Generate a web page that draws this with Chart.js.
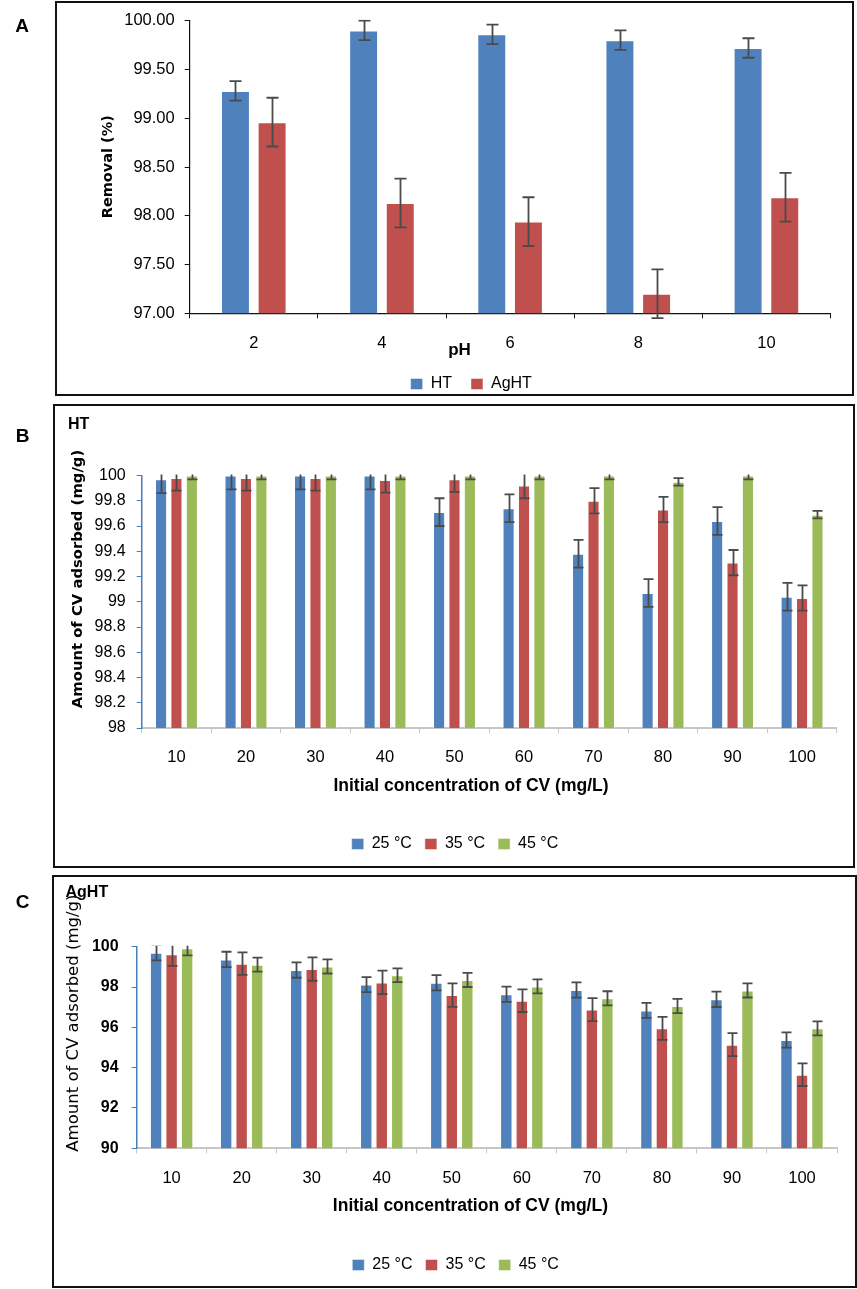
<!DOCTYPE html>
<html>
<head>
<meta charset="utf-8">
<script src="https://cdn.jsdelivr.net/npm/chart.js@4.4.1/dist/chart.umd.min.js"></script>
<style>
html,body{margin:0;padding:0;background:#fff;}
body{width:857px;height:1289px;position:relative;overflow:hidden;}
.box{position:absolute;border:2px solid #111;box-sizing:border-box;}
canvas{position:absolute;left:0;}
</style>
</head>
<body>
<div class="box" style="left:55px;top:1px;width:799px;height:395px"></div>
<div class="box" style="left:53px;top:404px;width:802px;height:464px"></div>
<div class="box" style="left:52px;top:875px;width:805px;height:413px"></div>
<canvas id="cA" width="857" height="402" style="top:0px"></canvas>
<canvas id="cB" width="857" height="465" style="top:403px"></canvas>
<canvas id="cC" width="857" height="419" style="top:870px"></canvas>
<script>
// ---------- Panel A data ----------
const phCategories = ['2', '4', '6', '8', '10'];
const removalHT = [99.28, 99.90, 99.86, 99.80, 99.72];
const removalHTErr = [0.10, 0.10, 0.10, 0.10, 0.10];
const removalAgHT = [98.96, 98.13, 97.94, 97.20, 98.19];
const removalAgHTErr = [0.25, 0.25, 0.25, 0.25, 0.25];
const seriesA = ['HT', 'AgHT'];

// ---------- Panel B / C data ----------
const concCategories = ['10', '20', '30', '40', '50', '60', '70', '80', '90', '100'];
const tempLabels = ['25 °C', '35 °C', '45 °C'];

const htQ25 = [99.97, 100.00, 100.00, 100.00, 99.71, 99.74, 99.38, 99.07, 99.64, 99.04];
const htQ25Err = [0.11, 0.11, 0.11, 0.11, 0.11, 0.11, 0.11, 0.11, 0.11, 0.11];
const htQ35 = [99.98, 99.98, 99.98, 99.965, 99.97, 99.92, 99.80, 99.73, 99.31, 99.03];
const htQ35Err = [0.10, 0.10, 0.10, 0.10, 0.10, 0.10, 0.10, 0.10, 0.10, 0.10];
const htQ45 = [100.00, 100.00, 100.00, 100.00, 100.00, 100.00, 100.00, 99.95, 100.00, 99.69];
const htQ45Err = [0.03, 0.03, 0.03, 0.03, 0.03, 0.03, 0.03, 0.03, 0.03, 0.03];

const aghtQ25 = [99.70, 99.37, 98.84, 98.12, 98.21, 97.64, 97.85, 96.84, 97.39, 95.37];
const aghtQ25Err = [0.38, 0.38, 0.38, 0.37, 0.38, 0.38, 0.38, 0.37, 0.38, 0.38];
const aghtQ35 = [99.62, 99.16, 98.89, 98.23, 97.60, 97.32, 96.88, 95.95, 95.14, 93.65];
const aghtQ35Err = [0.57, 0.56, 0.58, 0.58, 0.58, 0.56, 0.57, 0.57, 0.57, 0.56];
const aghtQ45 = [99.92, 99.11, 99.02, 98.58, 98.35, 98.03, 97.44, 97.06, 97.83, 95.95];
const aghtQ45Err = [0.35, 0.35, 0.35, 0.34, 0.35, 0.35, 0.35, 0.35, 0.35, 0.35];

// ---------- Text ----------
const panelLetters = ['A', 'B', 'C'];
const panelSubtitles = ['HT', 'AgHT'];
const yTitleA = 'Removal (%)';
const xTitleA = 'pH';
const yTitleBC = 'Amount of CV adsorbed (mg/g)';
const xTitleBC = 'Initial concentration of CV (mg/L)';

// ---------- Styles ----------
const BLUE = '#4F81BD', RED = '#C0504D', GREEN = '#9BBB59';
const SANS = "'Liberation Sans', Arial, sans-serif";
const WIDE = "'DejaVu Sans', Verdana, sans-serif";

const errorBars = {
  id: 'errorBars',
  afterDatasetsDraw(chart, args, opts) {
    const {ctx, chartArea} = chart;
    ctx.save();
    ctx.beginPath();
    ctx.rect(0, chartArea.top - 1, chart.width, chart.height);
    ctx.clip();
    ctx.strokeStyle = opts.color || '#4d4d4d';
    ctx.lineWidth = opts.width || 1.6;
    chart.data.datasets.forEach((ds, di) => {
      const meta = chart.getDatasetMeta(di);
      const ys = chart.scales[meta.yAxisID];
      meta.data.forEach((bar, i) => {
        const v = ds.data[i], e = ds.errors[i];
        const yT = ys.getPixelForValue(v + e), yB = ys.getPixelForValue(v - e);
        const x = Math.round(bar.x) + 0.5, hw = opts.cap || 5;
        ctx.beginPath();
        ctx.moveTo(x, yT); ctx.lineTo(x, yB);
        ctx.moveTo(x - hw, yT); ctx.lineTo(x + hw, yT);
        ctx.moveTo(x - hw, yB); ctx.lineTo(x + hw, yB);
        ctx.stroke();
      });
    });
    ctx.restore();
  }
};

const freeText = {
  id: 'freeText',
  afterDraw(chart, args, opts) {
    const ctx = chart.ctx;
    (opts.items || []).forEach(it => {
      ctx.save();
      ctx.font = it.font;
      ctx.fillStyle = it.color || '#000';
      ctx.textAlign = it.align || 'center';
      ctx.textBaseline = 'middle';
      ctx.translate(it.x, it.y);
      if (it.rotate) ctx.rotate(it.rotate);
      ctx.fillText(it.text, 0, 0);
      ctx.restore();
    });
  }
};

function makeChart(id, cfg) {
  return new Chart(document.getElementById(id), {
    type: 'bar',
    data: { labels: cfg.labels, datasets: cfg.datasets },
    plugins: [errorBars, freeText],
    options: {
      responsive: false,
      animation: false,
      devicePixelRatio: 1,
      layout: { padding: cfg.padding },
      datasets: { bar: { categoryPercentage: cfg.catPct, barPercentage: cfg.barPct, borderWidth: 1, borderColor: 'rgba(255,255,255,0.45)' } },
      scales: {
        x: {
          grid: { display: true, drawOnChartArea: false, drawTicks: true, tickLength: 5, color: cfg.xAxisColor, lineWidth: 1 },
          border: { display: true, color: cfg.xAxisColor, width: cfg.xAxisWidth },
          ticks: { color: '#000', padding: 15, font: { family: SANS, size: cfg.xTickSize } },
          afterFit(s) { s.height = cfg.xHeight; }
        },
        y: {
          min: cfg.yMin, max: cfg.yMax,
          grid: { display: true, drawOnChartArea: false, drawTicks: true, tickLength: 5, color: cfg.yAxisColor, lineWidth: 1 },
          border: { display: true, color: cfg.yAxisColor, width: cfg.yAxisWidth },
          ticks: { stepSize: cfg.yStep, color: '#000', padding: cfg.yTickPad, font: { family: SANS, size: cfg.yTickSize, weight: cfg.yTickWeight }, callback: cfg.yFmt },
          afterFit(s) { s.width = cfg.yWidth; }
        }
      },
      plugins: {
        legend: {
          position: 'bottom',
          labels: { boxWidth: 12, boxHeight: 11, padding: cfg.legendPad, color: '#000', font: { family: SANS, size: 16 } }
        },
        tooltip: { enabled: false },
        errorBars: { color: '#4a4a4a', width: 1.8, cap: cfg.cap },
        freeText: { items: cfg.texts }
      }
    }
  });
}

// ---------- Panel A ----------
makeChart('cA', {
  labels: phCategories,
  datasets: [
    { label: seriesA[0], data: removalHT, errors: removalHTErr, backgroundColor: BLUE },
    { label: seriesA[1], data: removalAgHT, errors: removalAgHTErr, backgroundColor: RED }
  ],
  padding: { left: 112, right: 26.5, top: 20.7, bottom: 0 },
  catPct: 0.572, barPct: 0.79,
  xAxisColor: '#111', xAxisWidth: 1.2, yAxisColor: '#111', yAxisWidth: 1.2,
  xTickSize: 16.5, yTickSize: 16.5, yTickWeight: 'normal', yTickPad: 10,
  xHeight: 43.7, yWidth: 77.7,
  yMin: 97, yMax: 100, yStep: 0.5, yFmt: v => v.toFixed(2),
  legendPad: 19, cap: 6,
  texts: [
    { text: panelLetters[0], x: 22, y: 27, font: `bold 19px ${SANS}` },
    { text: yTitleA, x: 108.3, y: 166.7, rotate: -Math.PI / 2, font: `bold 14.5px ${WIDE}` },
    { text: xTitleA, x: 459.5, y: 350, font: `bold 17px ${SANS}` }
  ]
});

// ---------- Panel B ----------
makeChart('cB', {
  labels: concCategories,
  datasets: [
    { label: tempLabels[0], data: htQ25, errors: htQ25Err, backgroundColor: BLUE },
    { label: tempLabels[1], data: htQ35, errors: htQ35Err, backgroundColor: RED },
    { label: tempLabels[2], data: htQ45, errors: htQ45Err, backgroundColor: GREEN }
  ],
  padding: { left: 73.2, right: 20.2, top: 72.5, bottom: 6 },
  catPct: 0.665, barPct: 0.785,
  xAxisColor: '#c6c6c6', xAxisWidth: 2, yAxisColor: '#4a7ebb', yAxisWidth: 1.5,
  xTickSize: 16.5, yTickSize: 16, yTickWeight: 'normal', yTickPad: 11,
  xHeight: 95, yWidth: 68.5,
  yMin: 98, yMax: 100, yStep: 0.2, yFmt: v => String(Number(v.toFixed(1))),
  legendPad: 13, cap: 5,
  texts: [
    { text: panelLetters[1], x: 22.5, y: 34, font: `bold 19px ${SANS}` },
    { text: panelSubtitles[0], x: 68, y: 22, align: 'left', font: `bold 16px ${SANS}` },
    { text: yTitleBC, x: 78, y: 176, rotate: -Math.PI / 2, font: `bold 14.8px ${WIDE}` },
    { text: xTitleBC, x: 471, y: 383, font: `bold 17.5px ${SANS}` }
  ]
});

// ---------- Panel C ----------
makeChart('cC', {
  labels: concCategories,
  datasets: [
    { label: tempLabels[0], data: aghtQ25, errors: aghtQ25Err, backgroundColor: BLUE },
    { label: tempLabels[1], data: aghtQ35, errors: aghtQ35Err, backgroundColor: RED },
    { label: tempLabels[2], data: aghtQ45, errors: aghtQ45Err, backgroundColor: GREEN }
  ],
  padding: { left: 74.2, right: 20, top: 76.7, bottom: 6 },
  catPct: 0.664, barPct: 0.8,
  xAxisColor: '#c6c6c6', xAxisWidth: 2, yAxisColor: '#4a7ebb', yAxisWidth: 1.5,
  xTickSize: 16.5, yTickSize: 16, yTickWeight: 'bold', yTickPad: 13,
  xHeight: 95.7, yWidth: 62.4,
  yMin: 90, yMax: 100, yStep: 2, yFmt: v => String(v),
  legendPad: 13, cap: 5,
  texts: [
    { text: yTitleBC, x: 74, y: 281.7, align: 'left', rotate: -Math.PI / 2, font: `16.5px ${WIDE}` },
    { text: panelLetters[2], x: 22.5, y: 33, font: `bold 19px ${SANS}` },
    { text: panelSubtitles[1], x: 65.5, y: 23, align: 'left', font: `bold 16px ${SANS}` },
    { text: xTitleBC, x: 470.4, y: 336, font: `bold 17.5px ${SANS}` }
  ]
});
</script>
</body>
</html>
